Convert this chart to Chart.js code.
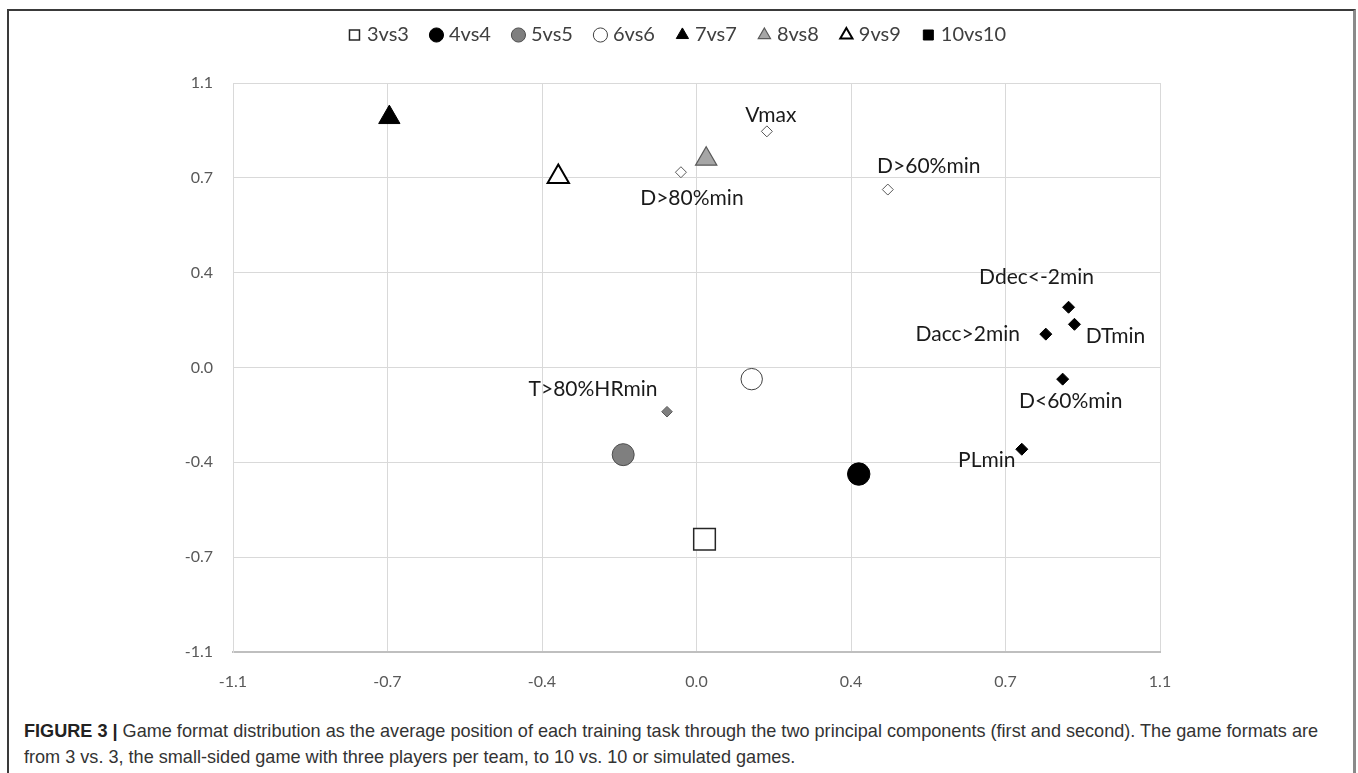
<!DOCTYPE html>
<html>
<head>
<meta charset="utf-8">
<script src="https://cdn.jsdelivr.net/npm/chart.js@4.4.1/dist/chart.umd.min.js"></script>
<style>
  body { margin: 0; background: #fff; width: 1358px; height: 773px; overflow: hidden; position: relative; }
  #frame { position: absolute; left: 7px; top: 9px; width: 1349px; height: 800px; border-top: 2px solid #3a3a3a; border-left: 2px solid #3a3a3a; border-right: 3px solid #8a8a8a; box-sizing: border-box; }
  #chartBox { position: absolute; left: 10px; top: 0px; width: 1338px; height: 702px; }
  #caption { position: absolute; left: 24px; top: 718px; font-family: "Liberation Sans", Arial, sans-serif; font-size: 18.1px; line-height: 26px; color: #333; white-space: nowrap; }
  #caption b { color: #222; }
</style>
</head>
<body>
<div id="frame"></div>
<div id="chartBox"><canvas id="chart"></canvas></div>
<div id="caption"><b>FIGURE 3 |</b> Game format distribution as the average position of each training task through the two principal components (first and second). The game formats are<br>from 3 vs. 3, the small-sided game with three players per team, to 10 vs. 10 or simulated games.</div>
<script>
// game formats (big markers)
const gameLabels = ['3vs3', '4vs4', '5vs5', '6vs6', '7vs7', '8vs8', '9vs9', '10vs10'];
const gameX = [0.019, 0.385, -0.174, 0.131, -0.729, 0.023, -0.328, null];
const gameY = [-0.664, -0.412, -0.337, -0.045, 0.967, 0.806, 0.737, null];

// variables (small diamonds)
const varLabels = ['Vmax', 'D>80%min', 'D>60%min', 'T>80%HRmin', 'Ddec<-2min', 'Dacc>2min', 'DTmin', 'D<60%min', 'PLmin'];
const varX = [0.167, -0.037, 0.454, -0.070, 0.883, 0.829, 0.897, 0.869, 0.772];
const varY = [0.913, 0.755, 0.688, -0.171, 0.233, 0.129, 0.167, -0.045, -0.316];

// axis ticks
const tickValues = [-1.1, -1.1 * 2 / 3, -1.1 / 3, 0, 1.1 / 3, 1.1 * 2 / 3, 1.1];
const tickLabels = ['-1.1', '-0.7', '-0.4', '0.0', '0.4', '0.7', '1.1'];

// marker styles
const gameStyle = [
    { shape: 'rect', fill: '#ffffff', line: '#262626', width: 1.5, r: 15.3 },
    { shape: 'circle', fill: '#000000', line: '#000000', width: 1, r: 11.2 },
    { shape: 'circle', fill: '#7f7f7f', line: '#4d4d4d', width: 1, r: 11 },
    { shape: 'circle', fill: '#ffffff', line: '#404040', width: 1, r: 10.7 },
    { shape: 'triangle', fill: '#000000', line: '#000000', width: 1, r: 12.3 },
    { shape: 'triangle', fill: '#a6a6a6', line: '#595959', width: 1.2, r: 12.3 },
    { shape: 'triangle', fill: '#ffffff', line: '#000000', width: 2, r: 12.3 },
    { shape: 'rect', fill: '#000000', line: '#000000', width: 1, r: 15 }
];
const varFill = ['#ffffff', '#ffffff', '#ffffff', '#7f7f7f', '#000000', '#000000', '#000000', '#000000', '#000000'];
const varLine = ['#595959', '#595959', '#595959', '#595959', '#000000', '#000000', '#000000', '#000000', '#000000'];
const varRadius = [5.5, 5.5, 5.5, 5.3, 6, 6, 6, 6, 6];
const labelOffsets = [[4, -16], [11, 26], [41, -23], [-74, -22], [-32, -30], [-78, 0], [41, 12], [8, 22], [-35, 11]];

const datasets = gameLabels.map((name, i) => ({
    label: name,
    data: gameX[i] === null ? [] : [{ x: gameX[i], y: gameY[i] }],
    pointStyle: gameStyle[i].shape,
    pointRadius: gameStyle[i].r,
    pointHoverRadius: gameStyle[i].r,
    backgroundColor: gameStyle[i].fill,
    borderColor: gameStyle[i].line,
    pointBorderWidth: gameStyle[i].width,
    borderWidth: gameStyle[i].width
}));

datasets.push({
    label: 'variables',
    data: varX.map((x, i) => ({ x: x, y: varY[i] })),
    pointStyle: 'rectRot',
    pointRadius: varRadius,
    pointHoverRadius: varRadius,
    pointBackgroundColor: varFill,
    pointBorderColor: varLine,
    pointBorderWidth: 1
});

const varLabelPlugin = {
    id: 'varLabels',
    afterDatasetsDraw(chart) {
        const meta = chart.getDatasetMeta(gameLabels.length);
        const ctx = chart.ctx;
        ctx.save();
        ctx.font = '21px Lato';
        ctx.fillStyle = '#1a1a1a';
        ctx.textAlign = 'center';
        ctx.textBaseline = 'middle';
        meta.data.forEach((pt, i) => {
            ctx.fillText(varLabels[i], pt.x + labelOffsets[i][0], pt.y + labelOffsets[i][1]);
        });
        ctx.restore();
    }
};

const tickFont = { family: 'Lato', size: 16 };

new Chart(document.getElementById('chart'), {
    type: 'scatter',
    data: { datasets: datasets },
    plugins: [varLabelPlugin],
    options: {
        responsive: true,
        maintainAspectRatio: false,
        animation: false,
        layout: { padding: { top: 0, right: 0, bottom: 0, left: 0 } },
        plugins: {
            tooltip: { enabled: false },
            // empty title used as a spacer between legend and plot
            title: {
                display: true,
                text: '',
                weight: 500,
                font: { size: 10 },
                padding: { top: 16, bottom: 0 }
            },
            legend: {
                position: 'top',
                labels: {
                    usePointStyle: true,
                    boxWidth: 5,
                    boxHeight: 10,
                    padding: 25,
                    color: '#404040',
                    font: { family: 'Lato', size: 20 },
                    filter: item => item.datasetIndex < gameLabels.length
                }
            }
        },
        scales: {
            x: {
                type: 'linear',
                min: -1.1,
                max: 1.1,
                afterBuildTicks: scale => { scale.ticks = tickValues.map(v => ({ value: v })); },
                afterFit: scale => { scale.height = 50; },
                ticks: {
                    color: '#595959',
                    font: tickFont,
                    padding: 20,
                    maxRotation: 0,
                    callback: (v, i) => tickLabels[i]
                },
                grid: { color: '#d9d9d9', lineWidth: 1, drawTicks: false },
                border: { color: '#bfbfbf', width: 2 }
            },
            y: {
                type: 'linear',
                min: -1.1,
                max: 1.1,
                afterBuildTicks: scale => { scale.ticks = tickValues.map(v => ({ value: v })); },
                afterFit: scale => { scale.width = 223; },
                ticks: {
                    color: '#595959',
                    font: tickFont,
                    padding: 20,
                    callback: (v, i) => tickLabels[i]
                },
                grid: { color: '#d9d9d9', lineWidth: 1, drawTicks: false },
                border: { color: '#d9d9d9', width: 1 }
            },
            yr: {
                position: 'right',
                display: true,
                afterFit: scale => { scale.width = 188; },
                ticks: { display: false },
                grid: { display: false },
                border: { display: false }
            }
        }
    }
});
</script>
</body>
</html>
